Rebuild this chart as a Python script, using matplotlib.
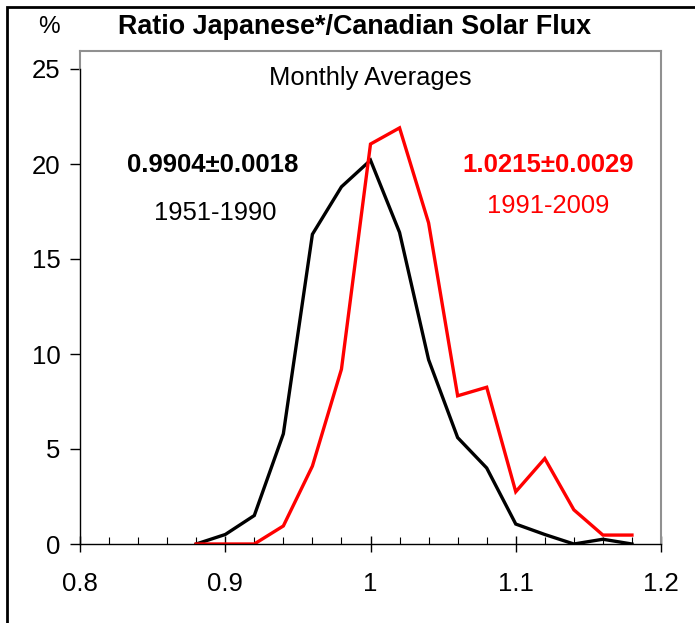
import matplotlib
matplotlib.use('Agg')
import matplotlib.pyplot as plt
from matplotlib.patches import Rectangle
from matplotlib.ticker import MultipleLocator

# rapporto (bin centres) e percentuali
ratio = [0.88, 0.90, 0.92, 0.94, 0.96, 0.98, 1.00, 1.02, 1.04, 1.06,
         1.08, 1.10, 1.12, 1.14, 1.16, 1.18]
pct_1951_1990 = [0.0, 0.5, 1.5, 5.8, 16.3, 18.8, 20.2, 16.4, 9.7, 5.6,
                 4.0, 1.05, 0.5, 0.0, 0.25, 0.0]
pct_1991_2009 = [0.0, 0.0, 0.0, 0.95, 4.1, 9.2, 21.05, 21.9, 16.9, 7.8,
                 8.25, 2.75, 4.5, 1.8, 0.47, 0.47]

xticks = [0.8, 0.9, 1.0, 1.1, 1.2]
xlabels = ['0.8', '0.9', '1', '1.1', '1.2']
yticks = [0, 5, 10, 15, 20, 25]

plt.rcParams['font.family'] = ['Liberation Sans', 'DejaVu Sans']

W, H = 695, 623
fig = plt.figure(figsize=(W / 100, H / 100), dpi=100)
ax = fig.add_axes([80 / W, 1 - 544 / H, 581 / W, 493 / H])

ax.plot(ratio, pct_1951_1990, color='black', lw=2.4, solid_joinstyle='miter')
ax.plot(ratio, pct_1991_2009, color='#ff0000', lw=2.4, solid_joinstyle='miter')

ax.set_xlim(0.8, 1.2)
ax.set_ylim(0, 493 / 19)
ax.set_xticks(xticks)
ax.set_xticklabels(xlabels)
ax.set_yticks(yticks)
ax.xaxis.set_minor_locator(MultipleLocator(0.02))
ax.tick_params(axis='x', which='major', direction='inout', length=12, width=1,
               pad=14, labelsize=18.5)
ax.tick_params(axis='x', which='minor', direction='in', length=5, width=0.8)
ax.tick_params(axis='y', which='major', direction='out', length=7, width=1,
               pad=7, labelsize=18.5)

# bordi: asse sinistro e inferiore neri, resto grigio
for s in ['top', 'right']:
    ax.spines[s].set_color('#909090')
    ax.spines[s].set_linewidth(1.5)
ax.spines['left'].set_bounds(0, 25)
ax.spines['left'].set_linewidth(1)
ax.spines['bottom'].set_linewidth(1)
ax.plot([0.8, 0.8], [25, 493 / 19], color='#909090', lw=1.5, clip_on=False)

ax.text(0.5, 0.945, 'Monthly Averages', transform=ax.transAxes,
        ha='center', va='center', fontsize=18.4)
ax.text(213 / W, 1 - 165 / H, '0.9904\u00b10.0018', transform=fig.transFigure,
        ha='center', va='center', fontsize=18.5, fontweight='bold', color='black')
ax.text(215 / W, 1 - 213 / H, '1951-1990', transform=fig.transFigure,
        ha='center', va='center', fontsize=18.4, color='black')
ax.text(548 / W, 1 - 165 / H, '1.0215\u00b10.0029', transform=fig.transFigure,
        ha='center', va='center', fontsize=18.5, fontweight='bold', color='#ff0000')
ax.text(548 / W, 1 - 206 / H, '1991-2009', transform=fig.transFigure,
        ha='center', va='center', fontsize=18.4, color='#ff0000')

fig.text(49 / W, 1 - 27 / H, '%', ha='center', va='center', fontsize=17.5)
fig.text(355 / W, 1 - 27 / H, 'Ratio Japanese*/Canadian Solar Flux',
         ha='center', va='center', fontsize=19.4, fontweight='bold')

# cornice esterna
fig.patches.append(Rectangle((7 / W, -0.1), 1.2, 1.1 - 7 / H,
                             transform=fig.transFigure, fill=False,
                             edgecolor='black', lw=2))

fig.savefig('out.png', dpi=100)
